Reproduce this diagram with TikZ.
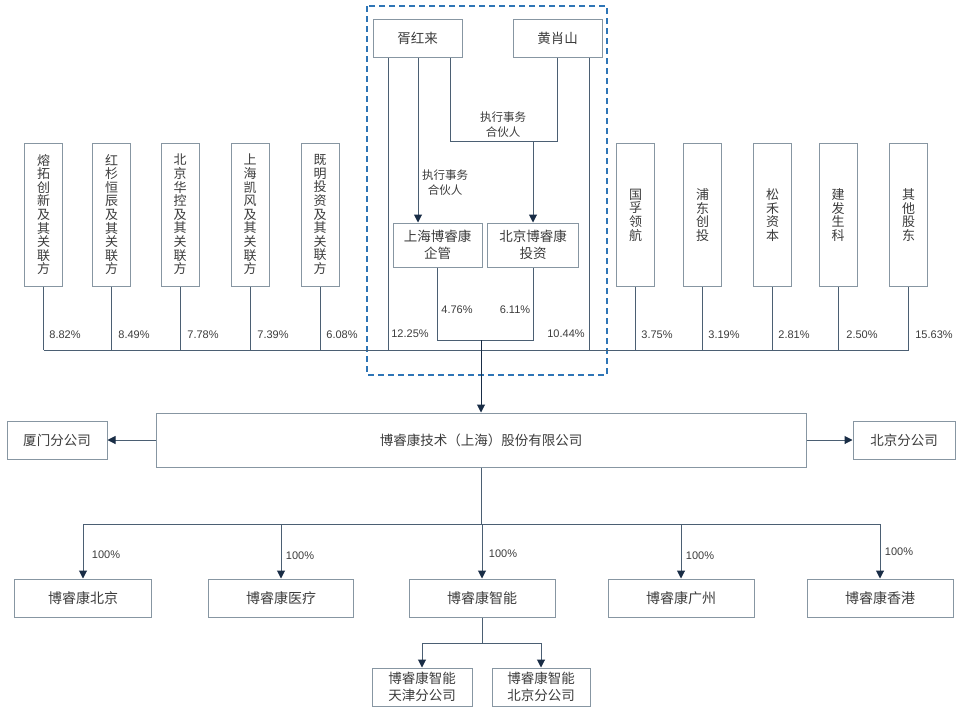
\documentclass[tikz,border=0pt]{standalone}
\usepackage{fontspec}
\setmainfont{Liberation Sans}
\newfontfamily\cjk{Noto Sans CJK SC}
\usetikzlibrary{arrows.meta}
\definecolor{boxc}{RGB}{135,150,162}
\definecolor{linec}{RGB}{75,95,115}
\definecolor{tipc}{RGB}{25,45,70}
\definecolor{dashc}{RGB}{46,117,182}
\definecolor{txtc}{RGB}{60,60,60}
\begin{document}
\begin{tikzpicture}[x=1pt,y=-1pt,
 box/.style={draw=boxc, line width=1pt, fill=white, inner sep=0pt, text=txtc, font=\cjk\fontsize{13.5}{16.5}\selectfont, align=center},
 vbox/.style={box, minimum width=38pt, minimum height=143pt, font=\cjk\fontsize{13}{13.6}\selectfont},
 sbox/.style={box, minimum height=38pt, font=\cjk\fontsize{14}{17}\selectfont},
 conn/.style={draw=linec, line width=1pt},
 arr/.style={conn, -{Triangle[length=8pt,width=8pt,color=tipc]}},
 pct/.style={text=txtc, font=\fontsize{11}{13}\selectfont, inner sep=0pt},
 lbl/.style={text=txtc, font=\cjk\fontsize{11.5}{15}\selectfont, align=center, inner sep=0pt}]
\useasboundingbox (0,0) rectangle (968,720);
\fill[white] (0,0) rectangle (968,720);

% group frame
\draw[dashc, line width=1.2pt, dash pattern=on 6pt off 4pt] (367,6) rectangle (607,375);

% shareholders left
\node[vbox] (L1) at (43.5,214.5) {熔\\拓\\创\\新\\及\\其\\关\\联\\方};
\node[vbox] (L2) at (111.5,214.5) {红\\杉\\恒\\辰\\及\\其\\关\\联\\方};
\node[vbox] (L3) at (180,214.5) {北\\京\\华\\控\\及\\其\\关\\联\\方};
\node[vbox] (L4) at (250,214.5) {上\\海\\凯\\风\\及\\其\\关\\联\\方};
\node[vbox] (L5) at (320,214.5) {既\\明\\投\\资\\及\\其\\关\\联\\方};
% shareholders right
\node[vbox] (R1) at (635.5,215) {国\\孚\\领\\航};
\node[vbox] (R2) at (702.5,215) {浦\\东\\创\\投};
\node[vbox] (R3) at (772.5,215) {松\\禾\\资\\本};
\node[vbox] (R4) at (838,215) {建\\发\\生\\科};
\node[vbox] (R5) at (908.5,215) {其\\他\\股\\东};

% founders
\node[box, minimum width=89pt, minimum height=38pt] (X) at (417.5,38) {胥红来};
\node[box, minimum width=89pt, minimum height=38pt] (Y) at (557.5,38) {黄肖山};
\node[box, minimum width=89pt, minimum height=44pt] (A) at (437.5,245) {上海博睿康\\企管};
\node[box, minimum width=91pt, minimum height=44pt] (B) at (533,245) {北京博睿康\\投资};

% main company and branches
\node[box, minimum width=650pt, minimum height=54pt] (M) at (481,440) {博睿康技术（上海）股份有限公司};
\node[box, minimum width=100pt, minimum height=38pt] (XM) at (57,440) {厦门分公司};
\node[box, minimum width=102pt, minimum height=38pt] (BJ) at (904,440) {北京分公司};

% subsidiaries
\node[sbox, minimum width=137pt] (S1) at (83,598) {博睿康北京};
\node[sbox, minimum width=145pt] (S2) at (281,598) {博睿康医疗};
\node[sbox, minimum width=146pt] (S3) at (482,598) {博睿康智能};
\node[sbox, minimum width=146pt] (S4) at (681,598) {博睿康广州};
\node[sbox, minimum width=146pt] (S5) at (880,598) {博睿康香港};
\node[box, minimum width=100pt, minimum height=38pt] (T1) at (422,687) {博睿康智能\\天津分公司};
\node[box, minimum width=98pt, minimum height=38pt] (T2) at (541,687) {博睿康智能\\北京分公司};

% coordinates
\coordinate (bus) at (481,350);
\coordinate (x1) at ([xshift=-29.5pt]X.south);
\coordinate (x2) at ([xshift=0.5pt]X.south);
\coordinate (x3) at ([xshift=32.5pt]X.south);
\coordinate (y2) at ([xshift=31.5pt]Y.south);
\coordinate (j) at (533,141);
\coordinate (m) at (481,340);
\coordinate (sb) at (481,524);
\coordinate (tb) at (482,643);

% shareholder bus
\foreach \n in {L1,L2,L3,L4,L5,R1,R2,R3,R4,R5}
  \draw[conn] (\n.south) -- (\n.south |- bus);
\draw[conn] (L1.south |- bus) -- (R5.south |- bus);
\draw[conn] (x1) -- (x1 |- bus);
\draw[conn] (y2) -- (y2 |- bus);

% executive partner links
\draw[arr] (x2) -- (x2 |- A.north);
\draw[conn] (x3) -- (x3 |- j) -- (Y.south |- j) -- (Y.south);
\draw[arr] (j) -- (B.north);
\draw[conn] (A.south) -- (A.south |- m) -- (B.south |- m) -- (B.south);
\draw[arr, draw=tipc] (m) -- (M.north);

% branches
\draw[arr] (M.west) -- (XM.east);
\draw[arr] (M.east) -- (BJ.west);

% subsidiaries
\draw[conn] (M.south) -- (sb);
\draw[conn] (S1.north |- sb) -- (S5.north |- sb);
\foreach \n in {S1,S2,S3,S4,S5}
  \draw[arr] (\n.north |- sb) -- (\n.north);
\draw[conn] (S3.south) -- (tb);
\draw[conn] (T1.north |- tb) -- (T2.north |- tb);
\draw[arr] (T1.north |- tb) -- (T1.north);
\draw[arr] (T2.north |- tb) -- (T2.north);

% labels
\node[lbl] (e1) at (503,125) {执行事务\\合伙人};
\node[lbl] (e2) at (445,183) {执行事务\\合伙人};
\node[pct] (p1) at (65,335) {8.82\%};
\node[pct] (p2) at (134,335) {8.49\%};
\node[pct] (p3) at (203,335) {7.78\%};
\node[pct] (p4) at (273,335) {7.39\%};
\node[pct] (p5) at (342,335) {6.08\%};
\node[pct] (p6) at (410,334) {12.25\%};
\node[pct] (p7) at (566,334) {10.44\%};
\node[pct] (p8) at (457,310) {4.76\%};
\node[pct] (p9) at (515,310) {6.11\%};
\node[pct] (p10) at (657,335) {3.75\%};
\node[pct] (p11) at (724,335) {3.19\%};
\node[pct] (p12) at (794,335) {2.81\%};
\node[pct] (p13) at (862,335) {2.50\%};
\node[pct] (p14) at (934,335) {15.63\%};
\node[pct] (h1) at (106,555) {100\%};
\node[pct] (h2) at (300,556) {100\%};
\node[pct] (h3) at (503,554) {100\%};
\node[pct] (h4) at (700,556) {100\%};
\node[pct] (h5) at (899,552) {100\%};
\end{tikzpicture}
\end{document}
